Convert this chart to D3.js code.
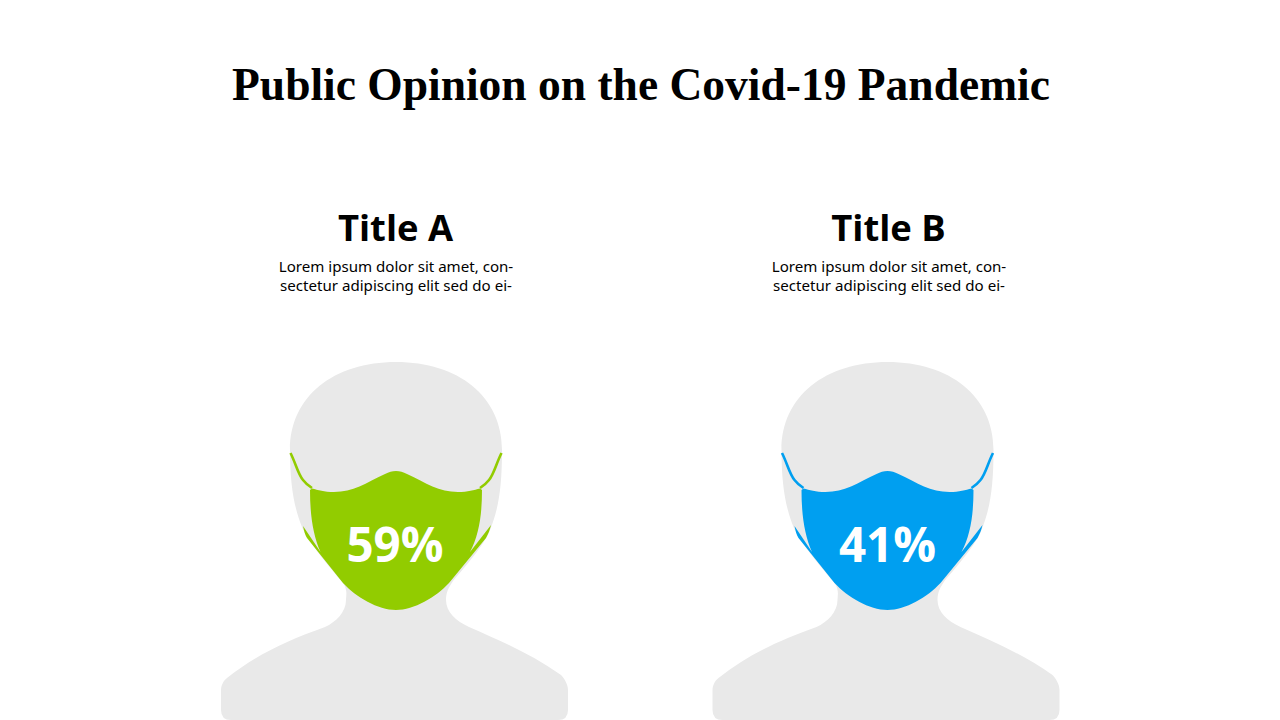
<!DOCTYPE html>
<html><head><meta charset="utf-8">
<script src="https://cdn.jsdelivr.net/npm/d3@7"></script>
<style>html,body{margin:0;background:#fff;overflow:hidden}svg{display:block}</style>
</head><body><svg id="c" width="1280" height="720"></svg>
<script>
const chartTitle = "Public Opinion on the Covid-19 Pandemic";
const categories = ["Title A", "Title B"];
const values = [59, 41];
const colors = ["#92CC00", "#009FF0"];
const bodyLines = ["Lorem ipsum dolor sit amet, con-", "sectetur adipiscing elit sed do ei-"];

const svg = d3.select("#c");
const x = d3.scalePoint().domain(categories).range([396, 887.5]);
const xHead = d3.scalePoint().domain(categories).range([395.5, 888.5]);
const xBody = d3.scalePoint().domain(categories).range([396, 889]);
const xPct = d3.scalePoint().domain(categories).range([395, 887.5]);

svg.append("text").attr("x", 641).attr("y", 100).attr("text-anchor", "middle")
  .attr("font-family", "Liberation Serif").attr("font-weight", 700).attr("font-size", 45.5)
  .attr("fill", "#000").text(chartTitle);

const silhouette = "M0,362 C-62,362 -106,396 -106,450 C-106,485 -102,507 -94,527 C-88,541 -70,563 -53,583 C-48,590 -50,596 -50,600 C-50,612 -60,622 -71,627 C-110,641 -140,655 -169,678 C-173,681 -175,686 -175,690 L-175,710 Q-175,720 -165,720 L162,720 Q172,720 172,710 L172,690 C172,684 168,678 165,675 C135,654 105,641 73,627 C60,621 50,612 50,600 C50,592 53,587 57,581 C70,566 88,545 94,530 C102,510 106,490 106,450 C106,396 62,362 0,362 Z";
const maskBody = "M0,471 C-4,471 -7,472 -11,474 C-30,483 -43,492 -62,492 C-72,492 -78,490 -84,488.5 L-86,490 C-86,515 -83,535 -75.5,552 L-93,526 C-92,531 -91,535 -89,538 L-53,583 C-40,597 -18,610 0,610 C18,610 40,597 53,583 L90,538 C92,534 94,530 95,525 L74,552 C83,535 86,515 86,490 L84,488.5 C78,490 72,492 62,492 C43,492 30,483 11,474 C7,472 4,471 0,471 Z";
const earLoops = "M-105.5,453 C-100,464 -98,474 -93,480 C-90,484 -87,486 -84,488 M105.5,453 C100,464 98,474 93,480 C90,484 87,486 84,488";

const g = svg.selectAll("g.person").data(categories).join("g").attr("class", "person")
  .attr("transform", d => `translate(${x(d)},0)`);

g.append("path").attr("d", silhouette).attr("fill", "#E9E9E9");
g.append("path").attr("d", earLoops).attr("fill", "none").attr("stroke-width", 2.6)
  .attr("stroke", (d, i) => colors[i]);
g.append("path").attr("d", maskBody).attr("fill", (d, i) => colors[i]);

svg.selectAll("text.head").data(categories).join("text").attr("class", "head")
  .attr("x", d => xHead(d)).attr("y", 241).attr("text-anchor", "middle")
  .attr("font-family", "Open Sans").attr("font-weight", 700).attr("font-size", 36.4)
  .attr("fill", "#000").text(d => d);

bodyLines.forEach((line, k) => {
  svg.selectAll("text.b" + k).data(categories).join("text").attr("class", "b" + k)
    .attr("x", d => xBody(d)).attr("y", 271.5 + k * 19).attr("text-anchor", "middle")
    .attr("font-family", "Noto Sans").attr("font-size", 15.1)
    .attr("fill", "#000").text(line);
});

svg.selectAll("text.pct").data(categories).join("text").attr("class", "pct")
  .attr("x", d => xPct(d)).attr("y", 562).attr("text-anchor", "middle")
  .attr("font-family", "Open Sans").attr("font-weight", 700).attr("font-size", 47.5)
  .attr("fill", "#fff").text((d, i) => values[i] + "%");
</script></body></html>
